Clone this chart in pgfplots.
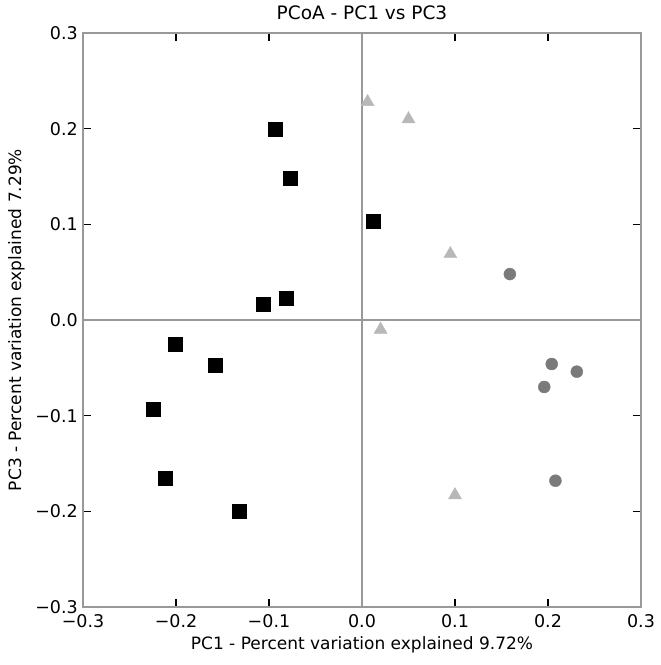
\documentclass[border=0pt]{standalone}
\usepackage{fontspec}
\setmainfont{DejaVu Sans}
\usepackage{pgfplots}
\pgfplotsset{compat=1.18}
\begin{document}
\begin{tikzpicture}
\useasboundingbox (-83pt,-58pt) rectangle (578pt,607pt);
\begin{axis}[
  scale only axis, width=558pt, height=574pt,
  xmin=-0.3, xmax=0.3, ymin=-0.3, ymax=0.3,
  xtick={-0.3,-0.2,-0.1,0,0.1,0.2,0.3},
  ytick={-0.3,-0.2,-0.1,0,0.1,0.2,0.3},
  xticklabels={−0.3,−0.2,−0.1,0.0,0.1,0.2,0.3},
  yticklabels={−0.3,−0.2,−0.1,0.0,0.1,0.2,0.3},
  tick align=inside, major tick length=8pt,
  tick style={black, line width=1.1pt},
  axis line style={gray!80, line width=1.2pt},
  ticklabel style={font=\fontsize{17.5}{19}\selectfont, inner sep=1pt},
  xticklabel style={yshift=-6pt},
  yticklabel style={xshift=-4pt},
  title={PCoA - PC1 vs PC3},
  title style={font=\fontsize{18.5}{21}\selectfont, yshift=4pt},
  xlabel={PC1 - Percent variation explained 9.72\%},
  ylabel={PC3 - Percent variation explained 7.29\%},
  label style={font=\fontsize{17}{19}\selectfont},
  xlabel style={yshift=-5pt},
  ylabel style={yshift=6pt},
  clip=false,
]
\addplot[gray!80, line width=1.2pt] coordinates {(0,-0.3) (0,0.3)};
\addplot[gray!80, line width=1.2pt] coordinates {(-0.3,0) (0.3,0)};
\addplot[only marks, mark=square*, mark size=7pt, mark options={fill=black, draw=black}] coordinates {
(-0.093,0.199) (-0.077,0.148) (0.012,0.103) (-0.106,0.017) (-0.082,0.023)
(-0.201,-0.025) (-0.158,-0.047) (-0.225,-0.093) (-0.212,-0.165) (-0.132,-0.200)};
\addplot[only marks, mark=triangle*, mark size=7.5pt, mark options={fill=black!28, draw=black!28}] coordinates {
(0.006,0.228) (0.050,0.210) (0.095,0.069) (0.020,-0.010) (0.100,-0.183)};
\addplot[only marks, mark=*, mark size=6pt, mark options={fill=black!52, draw=black!52}] coordinates {
(0.159,0.048) (0.204,-0.046) (0.231,-0.054) (0.196,-0.070) (0.208,-0.168)};
\end{axis}
\end{tikzpicture}
\end{document}
